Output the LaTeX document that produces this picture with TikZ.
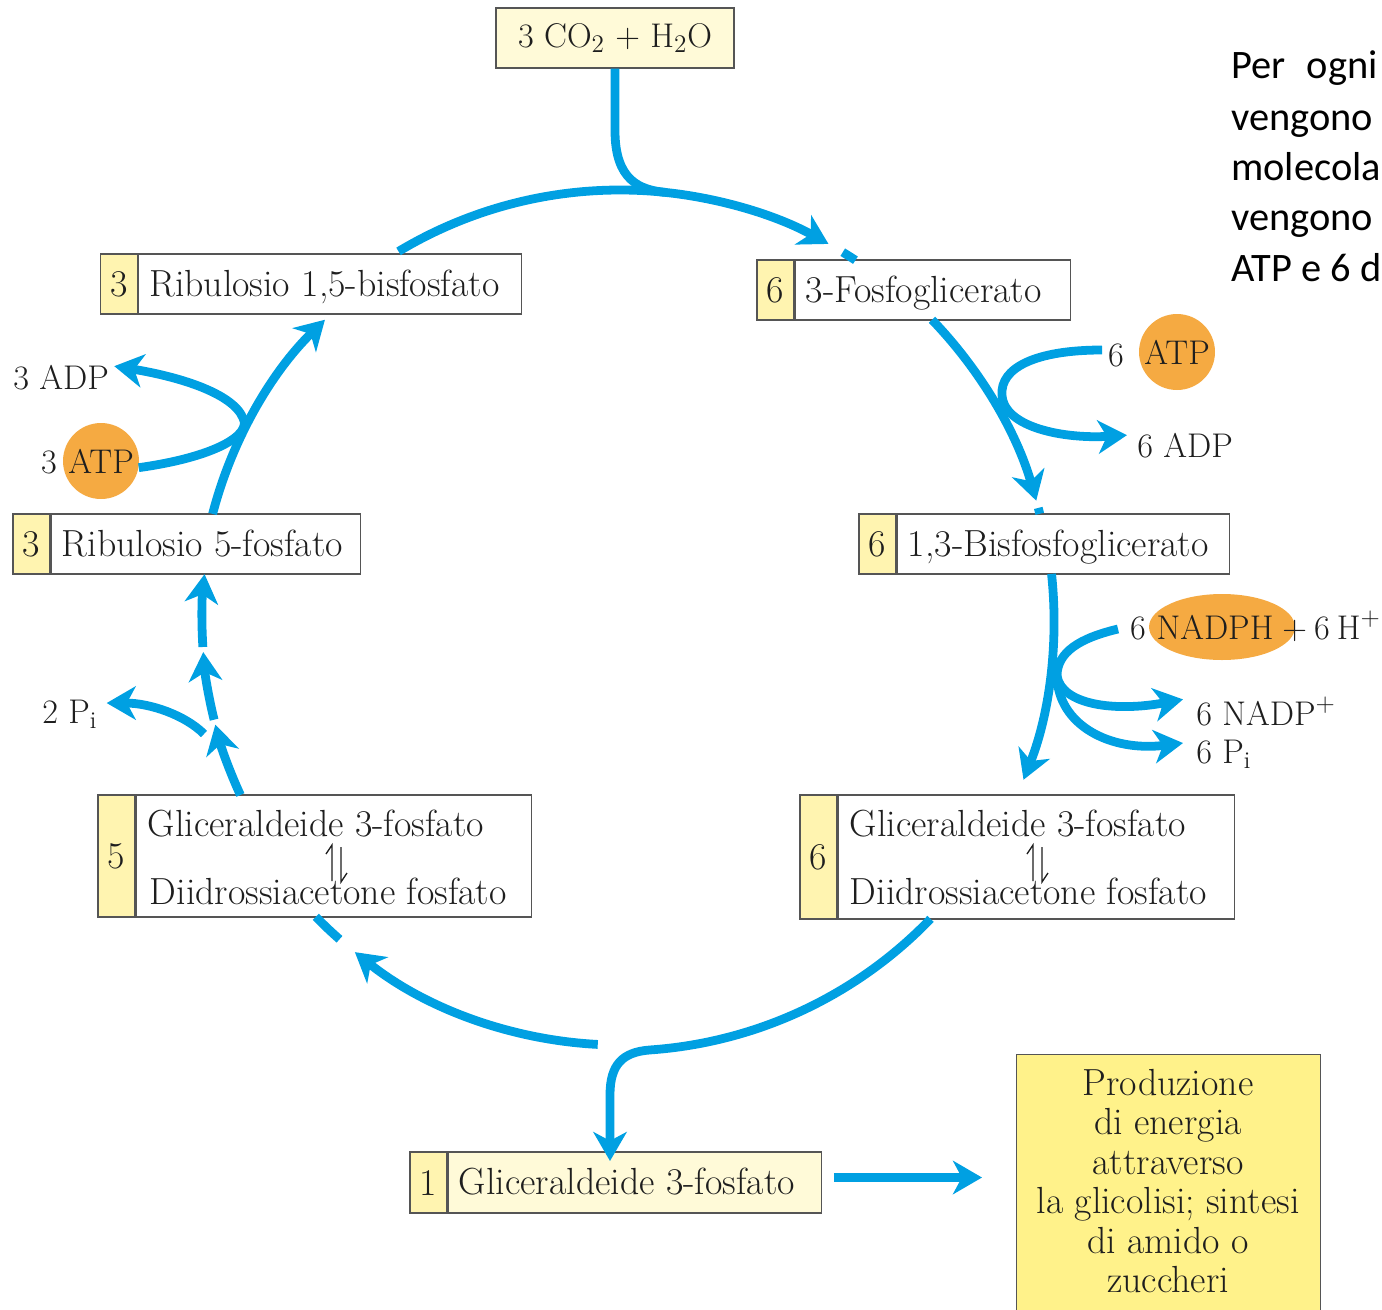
\documentclass[tikz,border=0pt]{standalone}
\usepackage{fontspec}
\newfontfamily\sidefont{Carlito}
\usetikzlibrary{arrows.meta,shapes.geometric,calc}

\definecolor{cycblue}{RGB}{0,160,226}
\definecolor{atporange}{RGB}{245,170,66}
\definecolor{numyellow}{RGB}{255,244,176}
\definecolor{creamfill}{RGB}{255,250,216}
\definecolor{prodyellow}{RGB}{255,242,138}
\definecolor{frame}{RGB}{85,85,85}
\definecolor{ink}{RGB}{30,30,30}

\newcommand\boxfont{\fontsize{21.5}{25}\selectfont}
\newcommand\labfont{\fontsize{19.5}{23}\selectfont}

\begin{document}
\begin{tikzpicture}[x=0.02cm, y=-0.02cm,
  every node/.style={text=ink},
  flow/.style={draw=cycblue, line width=5pt},
  head/.style={-{Stealth[length=16.5pt, width=19pt, inset=5pt]}},
  numcell/.style={draw=frame, line width=0.7pt, fill=numyellow, inner sep=0pt,
    minimum width=0.74cm, font=\boxfont},
  namecell/.style={draw=frame, line width=0.7pt, fill=white, inner sep=0pt, anchor=west},
  boxtxt/.style={font=\boxfont, inner sep=0pt, anchor=base west},
  lbl/.style={font=\labfont, inner sep=0pt},
  molecule/.style={circle, fill=atporange, minimum size=1.52cm, inner sep=0pt, font=\labfont},
  sidetxt/.style={font=\sidefont\fontsize{23}{29}\selectfont, text=black, inner sep=0pt, anchor=base west},
  harp/.style={draw=ink, line width=0.75pt},
]
\useasboundingbox (0,0) rectangle (1382,1309);
\clip (0,0) rectangle (1382,1309);

% ---------- compound boxes ----------
\node[draw=frame, line width=0.7pt, fill=creamfill, minimum width=4.76cm,
      minimum height=1.2cm, font=\labfont, inner sep=0pt] (co2) at (615,38)
      {3 CO$_2$ + H$_2$O};

\node[numcell, minimum height=1.2cm] (rb15n) at (119,284) {3};
\node[namecell, minimum width=7.66cm, minimum height=1.2cm] (rb15) at (rb15n.east) {};
\node[boxtxt] (rb15t) at ($(rb15.west)+(11,12)$) {Ribulosio 1,5-bisfosfato};

\node[numcell, minimum height=1.2cm] (fgn) at (775.5,290) {6};
\node[namecell, minimum width=5.5cm, minimum height=1.2cm] (fg) at (fgn.east) {};
\node[boxtxt] (fgt) at ($(fg.west)+(11,12)$) {3-Fosfoglicerato};

\node[numcell, minimum height=1.2cm] (bfgn) at (877.5,544) {6};
\node[namecell, minimum width=6.64cm, minimum height=1.2cm] (bfg) at (bfgn.east) {};
\node[boxtxt] (bfgt) at ($(bfg.west)+(11,12)$) {1,3-Bisfosfoglicerato};

\node[numcell, minimum height=1.2cm] (rb5n) at (31.5,544) {3};
\node[namecell, minimum width=6.18cm, minimum height=1.2cm] (rb5) at (rb5n.east) {};
\node[boxtxt] (rb5t) at ($(rb5.west)+(11,12)$) {Ribulosio 5-fosfato};

\node[numcell, minimum height=2.44cm] (gl5n) at (116.5,856) {5};
\node[namecell, minimum width=7.9cm, minimum height=2.44cm] (gl5) at (gl5n.east) {};
\node[boxtxt] (gl5a) at ($(gl5.west)+(12,-20)$) {Gliceraldeide 3-fosfato};
\node[boxtxt] (gl5b) at ($(gl5.west)+(14,48)$) {Diidrossiacetone fosfato};

\node[numcell, minimum height=2.48cm] (gl6n) at (818.5,857) {6};
\node[namecell, minimum width=7.92cm, minimum height=2.48cm] (gl6) at (gl6n.east) {};
\node[boxtxt] (gl6a) at ($(gl6.west)+(12,-21)$) {Gliceraldeide 3-fosfato};
\node[boxtxt] (gl6b) at ($(gl6.west)+(12,47)$) {Diidrossiacetone fosfato};

% equilibrium harpoons
\foreach \hx in {332,1033}{
  \draw[harp] (\hx,881) -- (\hx,845) -- ++(-6,9);
  \draw[harp] (\hx+9,847) -- (\hx+9,882) -- ++(6,-9);
}

\node[numcell, minimum height=1.22cm] (g1n) at (428.5,1182.5) {1};
\node[namecell, fill=creamfill, minimum width=7.46cm, minimum height=1.22cm] (g1) at (g1n.east) {};
\node[boxtxt] (g1t) at ($(g1.west)+(11,12)$) {Gliceraldeide 3-fosfato};

\node[draw=frame, line width=0.7pt, fill=prodyellow, minimum width=6.08cm,
      minimum height=6cm, anchor=north west, inner sep=0pt] (prod) at (1016,1054) {};
\node[inner sep=0pt, align=center, anchor=north, font={\fontsize{21.5}{22.4}\selectfont}]
      (prodt) at (1168,1069)
      {Produzione\\di energia\\attraverso\\la glicolisi; sintesi\\di amido o\\zuccheri};

% ---------- cofactors ----------
\node[molecule] (atp3) at (101,461) {ATP};
\node[lbl] (atp3n) at (49,462) {3};
\node[lbl, anchor=base west] (adp3) at (13,389) {3 ADP};

\node[molecule] (atp6) at (1177,352) {ATP};
\node[lbl] (atp6n) at (1116,355) {6};
\node[lbl, anchor=base west] (adp6) at (1137,457) {6 ADP};

\node[ellipse, fill=atporange, minimum width=2.92cm, minimum height=1.32cm, inner sep=0pt]
      (nadph) at (1222,627) {};
\node[lbl, anchor=base] (nadpht) at (1215,639) {NADPH};
\node[lbl, anchor=base] (nadphn) at (1138,639) {6};
\node[lbl, anchor=base west] (hplus) at (1282,639) {+\hspace{4pt}6\hspace{4pt}H$^+$};
\node[lbl, anchor=base west] (nadp) at (1196,725) {6 NADP$^+$};
\node[lbl, anchor=base west] (pi6) at (1196,763) {6 P$_\mathrm{i}$};
\node[lbl, anchor=base west] (pi2) at (42,723) {2 P$_\mathrm{i}$};

% ---------- side text ----------
\node[sidetxt] (s1) at (1231,78) {Per\hspace{12pt}ogni};
\node[sidetxt] (s2) at (1231,130) {vengono};
\node[sidetxt] (s3) at (1231,180) {molecola};
\node[sidetxt] (s4) at (1231,230) {vengono};
\node[sidetxt] (s5) at (1231,281) {ATP e 6 d};

% ---------- the cycle ----------
\coordinate (O) at (620,620);
\coordinate (co2in) at ([shift={(O)}]-84:430);

% Ribulosio 1,5-bisfosfato up to the CO2 junction
\draw[flow] ([shift={(O)}]-121:430) arc[start angle=-121, end angle=-84, radius=430];
% CO2 joins and the arc continues to 3-Fosfoglicerato
\draw[flow, head] (co2.south) -- ++(0,62) .. controls +(0,50) and +(-25,-2.6) .. (co2in)
      arc[start angle=-84, end angle=-61, radius=430];
\draw[flow] ([shift={(O)}]-58.8:430) arc[start angle=-58.8, end angle=-56.8, radius=430];

% 3-Fosfoglicerato -> 1,3-Bisfosfoglicerato
\draw[flow, head] ([shift={(O)}]-43.9:433) arc[start angle=-43.9, end angle=-16, radius=433];
\draw[flow] ([shift={(O)}]-15:433) arc[start angle=-15, end angle=-14.2, radius=433];

% 1,3-Bisfosfoglicerato -> Gliceraldeide 3-fosfato
\draw[flow, head] ([shift={(O)}]-6.1:434) arc[start angle=-6.1, end angle=21.6, radius=434];

% Gliceraldeide 3-fosfato (6) -> branch to 1 Gliceraldeide 3-fosfato
\coordinate (g1in) at (610,1161);
\draw[flow, head] ([shift={(O)}]43.9:431) arc[start angle=43.9, end angle=86, radius=431]
      .. controls +(-28,2) and +(0,-30) .. (610,1095) -- (g1in);

% back towards Gliceraldeide 3-fosfato (5)
\draw[flow, head] ([shift={(O)}]93:425) arc[start angle=93, end angle=128.6, radius=425];
\draw[flow] ([shift={(O)}]131.3:425) arc[start angle=131.3, end angle=135.7, radius=425];

% Gliceraldeide (5) -> Ribulosio 5-fosfato
\draw[flow, head] ([shift={(O)}]155.25:418) arc[start angle=155.25, end angle=165.5, radius=418];
\draw[flow, head] ([shift={(O)}]166.2:418) arc[start angle=166.2, end angle=175.6, radius=418];
\draw[flow, head] ([shift={(O)}]176.3:418) arc[start angle=176.3, end angle=186.3, radius=418];

% Ribulosio 5-fosfato -> Ribulosio 1,5-bisfosfato
\draw[flow, head] ([shift={(O)}]194.6:421) arc[start angle=194.6, end angle=225.5, radius=421];

% ---------- side reactions ----------
\coordinate (atp6out) at (1102,350);
\draw[flow, head] (atp6out) .. controls (1035,350) and (1000,368) .. (1002,395)
      .. controls (1004,428) and (1065,439) .. ($(adp6.west)+(-10,-10)$);

\draw[flow, head] (atp3.-10) .. controls (215,457) and (252,435) .. (243,418)
      .. controls (232,392) and (175,376) .. ($(adp3.east)+(5,-11)$);

\coordinate (nadphout) at (1118,629);
\coordinate (nsplit) at (1057,676);
\draw[flow] (nadphout) .. controls (1080,638) and (1057,652) .. (nsplit);
\draw[flow, head] (nsplit) .. controls (1062,705) and (1115,712) .. ($(nadp.west)+(-13,-12)$);
\draw[flow, head] (nsplit) .. controls (1058,725) and (1110,752) .. ($(pi6.west)+(-13,-11)$);

\coordinate (pisplit) at (204,734);
\draw[flow, head] (pisplit) .. controls (185,715) and (150,703) .. ($(pi2.east)+(9,-11)$);

% to the glycolysis / starch box
\draw[flow, head] ($(g1.east)+(12,-5)$) -- ($(prod.west |- g1.east)+(-34,-5)$);
\end{tikzpicture}
\end{document}
